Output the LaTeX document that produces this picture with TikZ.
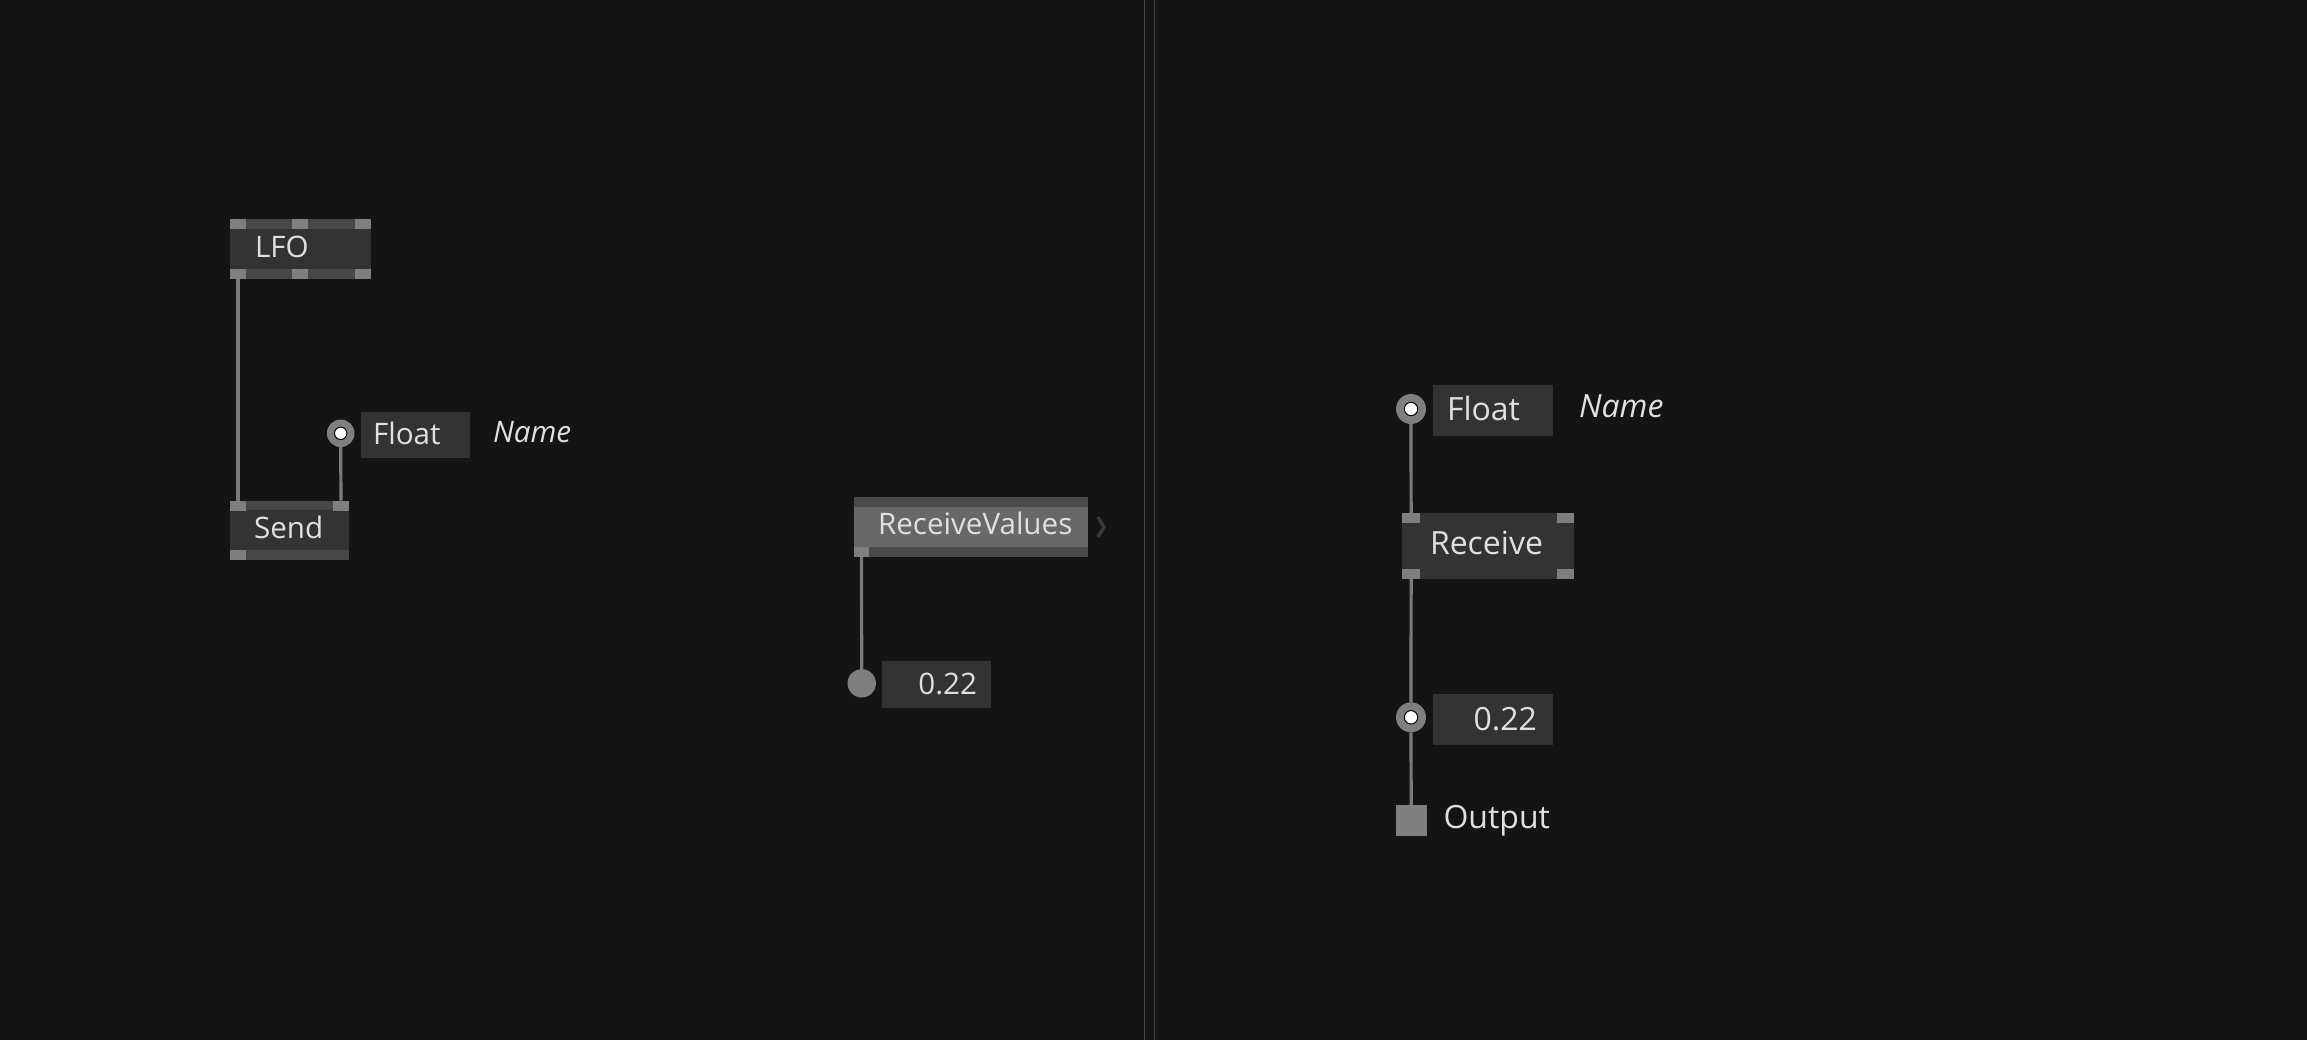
\documentclass[tikz,border=0pt]{standalone}
\usepackage{fontspec}
\setmainfont{Open Sans}
\definecolor{bgc}{HTML}{141414}
\definecolor{boxc}{HTML}{333333}
\definecolor{stripc}{HTML}{474747}
\definecolor{pinc}{HTML}{7F7F7F}
\definecolor{linkc}{HTML}{7A7A7A}
\definecolor{rvbody}{HTML}{686868}
\definecolor{rvstrip}{HTML}{4A4A4A}
\definecolor{txtc}{HTML}{E0E0E0}
\definecolor{divc}{HTML}{444444}
\definecolor{chevc}{HTML}{3A3A3A}
\tikzset{
  box/.style={fill=boxc, draw=none, inner sep=0pt, outer sep=0pt, anchor=north west},
  pin/.style={fill=pinc, draw=none, inner sep=0pt, outer sep=0pt, anchor=north west, minimum width=8pt, minimum height=5pt},
  iopin/.style={circle, fill=pinc, draw=none, inner sep=0pt, outer sep=0pt},
  iodot/.style={circle, fill=white, draw=black, line width=0.5pt, inner sep=0pt, outer sep=0pt},
  lbl/.style={inner sep=0pt, outer sep=0pt, text=txtc, font=\fontsize{14.8pt}{16pt}\selectfont},
  lblR/.style={inner sep=0pt, outer sep=0pt, text=txtc, font=\fontsize{16pt}{18pt}\selectfont},
  link/.style={draw=linkc, line width=1.6pt},
}
\begin{document}
\begin{tikzpicture}[x=0.5pt,y=-0.5pt]
\fill[bgc] (0,0) rectangle (2307,1040);
\useasboundingbox (0,0) rectangle (2307,1040);
% divider
\draw[divc, line width=0.5pt] (1144.3,0) -- (1144.3,1040);
\draw[divc, line width=0.5pt] (1154.3,0) -- (1154.3,1040);

% ---------- LFO ----------
\node[box, minimum width=70.5pt, minimum height=30pt] (lfo) at (230,219.3) {};
\fill[stripc] (230,219.3) rectangle (371,229.3);
\fill[stripc] (230,269.3) rectangle (371,279.3);
\node[pin] (lfoT1) at (230,219.3) {};
\node[pin] (lfoT2) at (292,219.3) {};
\node[pin] (lfoT3) at (355,219.3) {};
\node[pin] (lfoB1) at (230,269.3) {};
\node[pin] (lfoB2) at (292,269.3) {};
\node[pin] (lfoB3) at (355,269.3) {};
\node[lbl, anchor=base west] (lfotxt) at (255,257) {LFO};

% ---------- Send ----------
\node[box, minimum width=59.5pt, minimum height=29.65pt] (send) at (230,500.7) {};
\fill[stripc] (230,500.7) rectangle (349,510.3);
\fill[stripc] (230,550.3) rectangle (349,560);
\node[pin] (sendT1) at (230,500.7) {};
\node[pin] (sendT2) at (333,500.7) {};
\node[pin] (sendB1) at (230,550.3) {};
\node[lbl, anchor=base west] (sendtxt) at (254,538) {Send};

% ---------- Float (left) ----------
\node[iopin, minimum size=13.8pt] (fL) at (340.7,433.3) {};
\node[iodot, minimum size=6.2pt] (fLd) at (fL) {};
\node[box, minimum width=54.5pt, minimum height=23.3pt] (fLbox) at (361,411.7) {};
\node[lbl, anchor=base west] (fLtxt) at (373,444) {Float};
\node[lbl, anchor=base west, font=\fontsize{14.8pt}{16pt}\selectfont\itshape] (fLname) at (493,442) {Name};

\draw[link] (lfoB1.south) -- (sendT1.north);
\draw[link] (fL.south) -- (sendT2.north);

% ---------- ReceiveValues ----------
\node[box, fill=rvbody, minimum width=116.85pt, minimum height=29.7pt] (rv) at (854,497.3) {};
\fill[rvstrip] (854,497.3) rectangle (1087.7,506.7);
\fill[rvstrip] (854,547.3) rectangle (1087.7,556.7);
\node[pin, minimum width=7.5pt, minimum height=4.7pt] (rvB1) at (854,547.3) {};
\node[lbl, anchor=base west] (rvtxt) at (878,534) {ReceiveValues};
\coordinate (rvchev) at (1101,527);
\draw[chevc, line width=1.6pt, line join=miter] ([shift={(-3,-10)}]rvchev) -- ([shift={(3,0)}]rvchev) -- ([shift={(-3,10)}]rvchev);

\node[iopin, minimum size=14.2pt] (rvout) at (861.7,683.3) {};
\node[box, minimum width=54.5pt, minimum height=23.2pt] (rvval) at (882,661.3) {};
\node[lbl, anchor=base east] (rvvaltxt) at (977,694) {0.22};
\draw[link] (rvB1.south) -- (rvout.north);

% ---------- Right: Float ----------
\node[iopin, minimum size=15pt] (fR) at (1411,409) {};
\node[iodot, minimum size=6.7pt] (fRd) at (fR) {};
\node[box, minimum width=60pt, minimum height=25.5pt] (fRbox) at (1433.3,385) {};
\node[lblR, anchor=base west] (fRtxt) at (1447,420) {Float};
\node[lblR, anchor=base west, font=\fontsize{16pt}{18pt}\selectfont\itshape] (fRname) at (1579,417) {Name};

% ---------- Receive ----------
\node[box, minimum width=86pt, minimum height=32.7pt] (recv) at (1402.3,513.3) {};
\node[pin, minimum width=8.85pt] (recvT1) at (1402.3,513.3) {};
\node[pin, minimum width=8.85pt] (recvT2) at (1556.6,513.3) {};
\node[pin, minimum width=8.85pt] (recvB1) at (1402.3,568.7) {};
\node[pin, minimum width=8.85pt] (recvB2) at (1556.6,568.7) {};
\node[lblR, anchor=base west] (recvtxt) at (1430,554.3) {Receive};

% ---------- Right: value ----------
\node[iopin, minimum size=15pt] (vR) at (1411,717.3) {};
\node[iodot, minimum size=6.7pt] (vRd) at (vR) {};
\node[box, minimum width=60pt, minimum height=25.65pt] (vRbox) at (1433.3,693.7) {};
\node[lblR, anchor=base east] (vRtxt) at (1537,730.7) {0.22};

% ---------- Output ----------
\node[fill=pinc, draw=none, inner sep=0pt, outer sep=0pt, anchor=north west, minimum size=15.5pt] (outp) at (1395.7,805) {};
\node[lblR, anchor=base west] (outtxt) at (1443.5,828.3) {Output};

\draw[link] (fR.south) -- (recvT1.north);
\draw[link] (recvB1.south) -- (vR.north);
\draw[link] (vR.south) -- (outp.north);
\end{tikzpicture}
\end{document}
